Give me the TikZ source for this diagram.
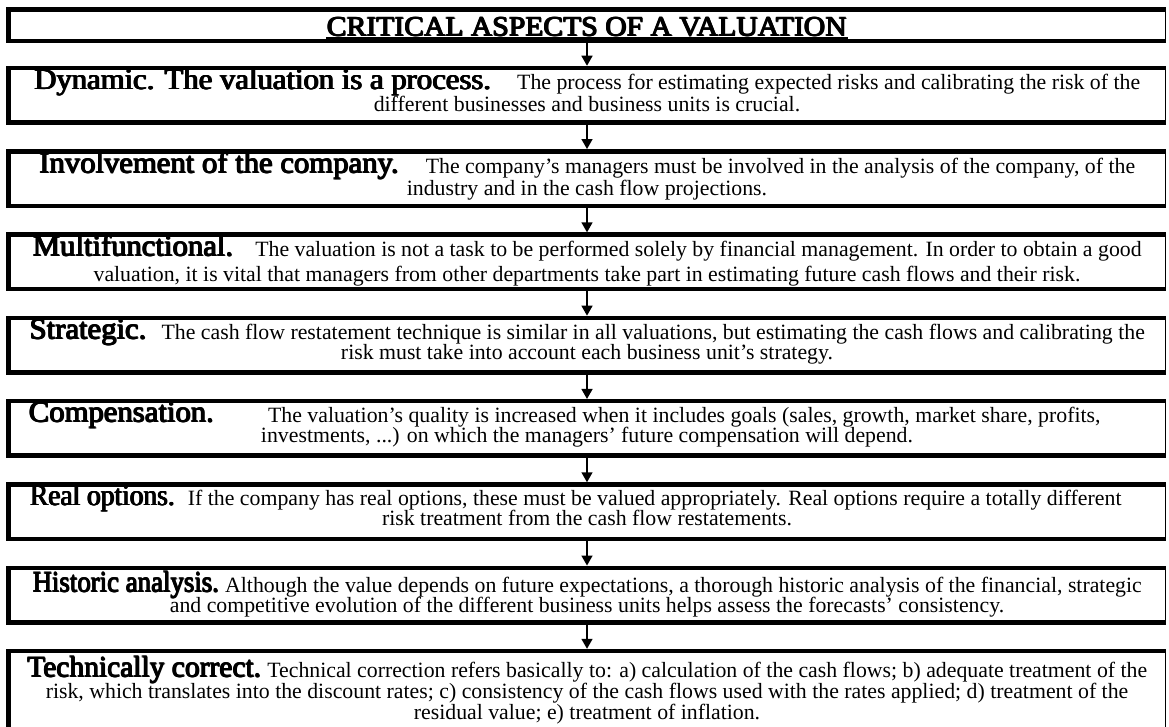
\documentclass[tikz,border=0pt]{standalone}
\usepackage{fontspec}
\usepackage{graphicx}
\setmainfont{Liberation Serif}
\usetikzlibrary{arrows.meta}

% heavy face built from overprinted copies of the upright
\newcommand{\heavy}[1]{\rlap{#1}\rlap{\raisebox{0.5pt}{#1}}\kern0.6pt\rlap{#1}\rlap{\raisebox{0.5pt}{#1}}\kern0.6pt#1}
\newcommand{\headword}[2][1.04]{{\fontsize{29.5}{20}\selectfont\scalebox{#1}[1]{\heavy{#2}}}}
\newcommand{\cardtext}[3]{\parbox[t][#1][t]{1157pt}{\lineskiplimit=-\maxdimen\centering\rule{0pt}{#2}#3}}
\newcommand{\titleul}[1]{\setbox0\hbox{#1}\rlap{\rule[-2.5pt]{\wd0}{1.5pt}}\box0}
\newcommand{\tailgap}[1]{\hspace*{#1}\mbox{}}

\begin{document}
\begin{tikzpicture}[
  x=1pt, y=1pt,
  card/.style={rectangle, draw, line width=1.5pt, inner sep=0pt, outer sep=0pt, font=\fontsize{21.8}{20}\selectfont},
  rim/.style={line width=4.5pt, line join=miter},
  link/.style={-{Triangle[length=10pt,width=11pt]}, line width=1.5pt, shorten >=2.25pt},
  node distance=83.3pt
]
\useasboundingbox (0,0) rectangle (1169,-727);

\node[card, font=\fontsize{27.7}{30}\selectfont] (title) at (587,-25.25)
  {\cardtext{31.5pt}{27pt}{\titleul{\scalebox{1.07}[1]{\heavy{CRITICAL ASPECTS OF A VALUATION}}}}};
\node[card, below of=title, node distance=70pt] (dynamic)
  {\cardtext{54.5pt}{22pt}{\headword{Dynamic. The valuation is a process.}\hspace{20pt} The process for estimating expected risks and calibrating the risk of the\\[2pt]
   different businesses and business units is crucial.}};
\node[card, below of=dynamic] (involvement)
  {\cardtext{54.5pt}{22pt}{\headword{Involvement of the company.}\hspace{21pt} The company’s managers must be involved in the analysis of the company, of the\\[2pt]
   industry and in the cash flow projections.}};
\node[card, below of=involvement] (multi)
  {\cardtext{54.5pt}{21.5pt}{\headword{Multifunctional.}\hspace{16pt} The valuation is not a task to be performed solely by financial management. In order to obtain a good\\[5pt]
   valuation, it is vital that managers from other departments take part in estimating future cash flows and their risk.}};
\node[card, below of=multi] (strategic)
  {\cardtext{54.5pt}{21.5pt}{\headword{Strategic.}\hspace{9pt} The cash flow restatement technique is similar in all valuations, but estimating the cash flows and calibrating the\\
   risk must take into account each business unit’s strategy.}};
\node[card, below of=strategic] (compensation)
  {\cardtext{54.5pt}{21pt}{\headword{Compensation.}\hspace{48pt} The valuation’s quality is increased when it includes goals (sales, growth, market share, profits,\tailgap{45pt}\\
   investments, ...) on which the managers’ future compensation will depend.}};
\node[card, below of=compensation] (realopt)
  {\cardtext{54.5pt}{21pt}{\headword[0.93]{Real options.}\hspace{7pt} If the company has real options, these must be valued appropriately. Real options require a totally different\tailgap{23pt}\\
   risk treatment from the cash flow restatements.}};
\node[card, below of=realopt] (historic)
  {\cardtext{54.5pt}{24.5pt}{\headword[0.91]{Historic analysis.} Although the value depends on future expectations, a thorough historic analysis of the financial, strategic\\
   and competitive evolution of the different business units helps assess the forecasts’ consistency.}};
\node[card, below of=historic, node distance=96pt] (technical)
  {\cardtext{80pt}{26pt}{\headword[1.0]{Technically correct.} Technical correction refers basically to: a) calculation of the cash flows; b) adequate treatment of the\\[1.5pt]
   risk, which translates into the discount rates; c) consistency of the cash flows used with the rates applied; d) treatment of the\\[0.5pt]
   residual value; e) treatment of inflation.}};

% heavy edges on top, left and bottom
\draw[rim] (title.north east) -- (title.north west) -- (title.south west) -- (title.south east);
\draw[rim] (dynamic.north east) -- (dynamic.north west) -- (dynamic.south west) -- (dynamic.south east);
\draw[rim] (involvement.north east) -- (involvement.north west) -- (involvement.south west) -- (involvement.south east);
\draw[rim] (multi.north east) -- (multi.north west) -- (multi.south west) -- (multi.south east);
\draw[rim] (strategic.north east) -- (strategic.north west) -- (strategic.south west) -- (strategic.south east);
\draw[rim] (compensation.north east) -- (compensation.north west) -- (compensation.south west) -- (compensation.south east);
\draw[rim] (realopt.north east) -- (realopt.north west) -- (realopt.south west) -- (realopt.south east);
\draw[rim] (historic.north east) -- (historic.north west) -- (historic.south west) -- (historic.south east);
\draw[rim] (technical.north east) -- (technical.north west) -- (technical.south west) -- (technical.south east);

\draw[link] (title) -- (dynamic);
\draw[link] (dynamic) -- (involvement);
\draw[link] (involvement) -- (multi);
\draw[link] (multi) -- (strategic);
\draw[link] (strategic) -- (compensation);
\draw[link] (compensation) -- (realopt);
\draw[link] (realopt) -- (historic);
\draw[link] (historic) -- (technical);
\end{tikzpicture}
\end{document}
